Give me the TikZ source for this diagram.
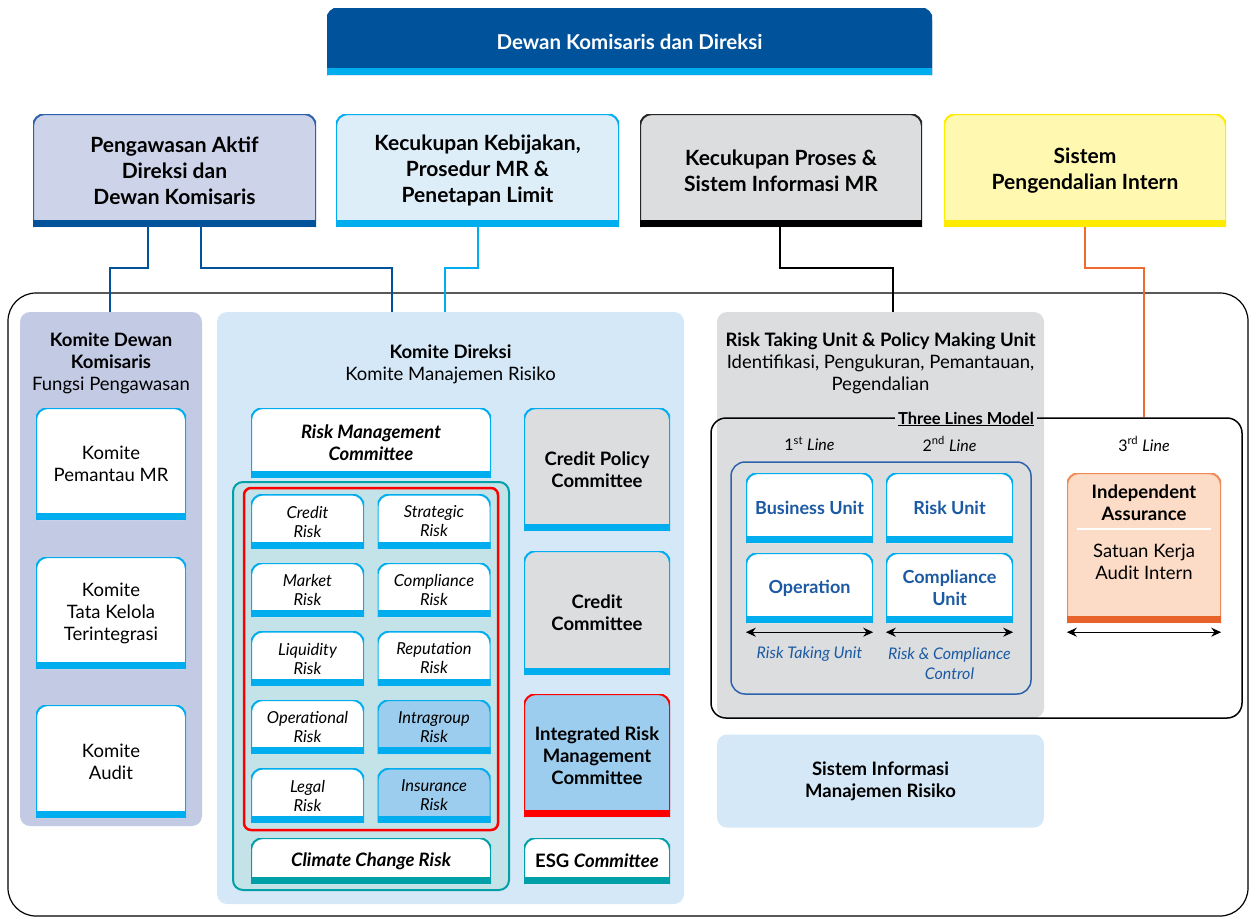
\documentclass[tikz,border=0pt]{standalone}
\usepackage{fontspec}
\setmainfont{Lato}
\usetikzlibrary{arrows.meta}

\definecolor{navy}{HTML}{00529B}
\definecolor{cyanbar}{HTML}{00AEEF}
\definecolor{lavfill}{HTML}{CDD3E8}
\definecolor{lavpanel}{HTML}{C3CAE3}
\definecolor{lavline}{HTML}{2E63AC}
\definecolor{ltblue}{HTML}{DDEEF9}
\definecolor{blupanel}{HTML}{D5E8F7}
\definecolor{panelgray}{HTML}{DCDDDF}
\definecolor{yelfill}{HTML}{FFF8B0}
\definecolor{yelline}{HTML}{FFEB00}
\definecolor{orangeline}{HTML}{EE6A30}
\definecolor{tealline}{HTML}{00A0A8}
\definecolor{tealfill}{HTML}{C4E3E8}
\definecolor{midblue}{HTML}{9DCDEE}
\definecolor{unitblue}{HTML}{1B5AA3}
\definecolor{peach}{HTML}{FCDCC7}
\definecolor{peachline}{HTML}{F08A55}
\definecolor{orangebar}{HTML}{E8632A}

\tikzset{
  card/.style n args={3}{inner sep=0pt, align=center,
    path picture={
      \fill[#1, rounded corners=12pt] (path picture bounding box.south west) -- (path picture bounding box.north west)
        -- (path picture bounding box.north east) -- (path picture bounding box.south east);
      \draw[#2, line width=2pt, rounded corners=12pt] (path picture bounding box.south west) -- (path picture bounding box.north west)
        -- (path picture bounding box.north east) -- (path picture bounding box.south east);
      \fill[#3] (path picture bounding box.south west) rectangle ([yshift=7pt]path picture bounding box.south east);
    }},
  panel/.style={fill=#1, rounded corners=10pt, inner sep=0pt},
  conn/.style={line width=2.8pt, draw=#1},
  twoway/.style={{Stealth[length=10pt,width=9pt]}-{Stealth[length=10pt,width=9pt]}, line width=1.2pt},
  tbig/.style={align=center, font=\fontsize{21}{26}\selectfont\bfseries},
  tmid/.style={align=center, font=\fontsize{18.5}{22}\selectfont},
  tmidb/.style={align=center, font=\fontsize{18.5}{22}\selectfont\bfseries},
  trisk/.style={align=center, font=\fontsize{16.5}{19}\selectfont\itshape},
  tcomm/.style={align=center, font=\fontsize{18.5}{22}\selectfont\bfseries\itshape},
  riskcard/.style={card={#1}{cyanbar}{cyanbar}, minimum width=113pt, minimum height=54pt, trisk},
  unitcard/.style={card={white}{cyanbar}{cyanbar}, minimum width=127pt, minimum height=70pt,
    align=center, font=\fontsize{18}{22}\selectfont\bfseries, text=unitblue},
}

\begin{document}
\begin{tikzpicture}[x=1pt, y=-1pt]
  \useasboundingbox (0,0) rectangle (1250,919);

  % board and the four pillars
  \node[card={navy}{navy}{cyanbar}, minimum width=605pt, minimum height=67pt, text=white,
    font=\fontsize{20.5}{24}\selectfont\bfseries] (board) at (629.5,41.5) {Dewan Komisaris dan Direksi};

  \node[card={lavfill}{lavline}{navy}, minimum width=283pt, minimum height=113pt, tbig] (aktif) at (174.5,170.5)
    {Pengawasan Aktif\\Direksi dan\\Dewan Komisaris};
  \node[card={ltblue}{cyanbar}{cyanbar}, minimum width=283pt, minimum height=113pt, tbig] (kebijakan) at (477.5,170.5)
    {Kecukupan Kebijakan,\\Prosedur MR \&\\Penetapan Limit};
  \node[card={panelgray}{black!85}{black}, minimum width=282pt, minimum height=113pt, tbig] (proses) at (781,170.5)
    {Kecukupan Proses \&\\Sistem Informasi MR};
  \node[card={yelfill}{yelline}{yelline}, minimum width=282pt, minimum height=113pt, tbig] (spi) at (1085,170.5)
    {Sistem\\Pengendalian Intern};

  % outer frame and panels
  \node[draw, line width=1.2pt, rounded corners=28pt, minimum width=1240pt, minimum height=623pt] (frame) at (628,604.5) {};
  \node[panel=lavpanel, minimum width=182pt, minimum height=514pt] (kdk) at (111,569) {};
  \node[panel=blupanel, minimum width=467pt, minimum height=592pt] (kdir) at (450.5,608) {};
  \node[panel=panelgray, minimum width=327pt, minimum height=406pt] (rtu) at (880.5,515) {};
  \node[panel=blupanel, minimum width=327pt, minimum height=93pt, tmidb] (simr) at (880.5,781)
    {Sistem Informasi\\Manajemen Risiko};

  % Komite Dewan Komisaris
  \node[tmid] (kdktitle) at (111,363.5) {\textbf{Komite Dewan}\\\textbf{Komisaris}\\Fungsi Pengawasan};
  \node[card={white}{cyanbar}{cyanbar}, minimum width=150pt, minimum height=112pt, tmid] (pemantau) at (111,464)
    {Komite\\Pemantau MR};
  \node[card={white}{cyanbar}{cyanbar}, minimum width=150pt, minimum height=112pt, tmid] (tatakelola) at (111,613)
    {Komite\\Tata Kelola\\Terintegrasi};
  \node[card={white}{cyanbar}{cyanbar}, minimum width=150pt, minimum height=113pt, tmid] (audit) at (111,761.5)
    {Komite\\Audit};

  % Komite Direksi
  \node[tmid] (kdirtitle) at (450.5,364) {\textbf{Komite Direksi}\\Komite Manajemen Risiko};
  \node[card={white}{cyanbar}{cyanbar}, minimum width=240pt, minimum height=70pt, tcomm] (rmc) at (371,443)
    {Risk Management\\Committee};
  \node[draw=tealline, line width=2pt, fill=tealfill, rounded corners=10pt, minimum width=276pt, minimum height=408pt] (riskgrp) at (371,686) {};
  \node[draw=red, line width=2.5pt, rounded corners=7pt, minimum width=254pt, minimum height=342pt] (riskset) at (371,659) {};

  \node[riskcard=white] (credit) at (307.5,521.5) {Credit\\Risk};
  \node[riskcard=white] (strategic) at (434,521.5) {Strategic\\Risk};
  \node[riskcard=white] (market) at (307.5,590) {Market\\Risk};
  \node[riskcard=white] (compliance) at (434,590) {Compliance\\Risk};
  \node[riskcard=white] (liquidity) at (307.5,658.5) {Liquidity\\Risk};
  \node[riskcard=white] (reputation) at (434,658.5) {Reputation\\Risk};
  \node[riskcard=white] (operational) at (307.5,727) {Operational\\Risk};
  \node[riskcard=midblue] (intragroup) at (434,727) {Intragroup\\Risk};
  \node[riskcard=white] (legal) at (307.5,795.5) {Legal\\Risk};
  \node[riskcard=midblue] (insurance) at (434,795.5) {Insurance\\Risk};

  \node[card={white}{tealline}{tealline}, minimum width=240pt, minimum height=46pt, tcomm] (climate) at (371,861)
    {Climate Change Risk};

  \node[card={panelgray}{cyanbar}{cyanbar}, minimum width=146pt, minimum height=123pt, tmidb] (cpc) at (597,469.5)
    {Credit Policy\\Committee};
  \node[card={panelgray}{cyanbar}{cyanbar}, minimum width=146pt, minimum height=124pt, tmidb] (cc) at (597,613)
    {Credit\\Committee};
  \node[card={midblue}{red}{red}, minimum width=146pt, minimum height=123pt, tmidb] (irmc) at (597,755.5)
    {Integrated Risk\\Management\\Committee};
  \node[card={white}{tealline}{tealline}, minimum width=146pt, minimum height=46pt, tmidb] (esg) at (597,861)
    {ESG \textit{Committee}};

  % Risk Taking Unit and the three lines
  \node[tmid] (rtutitle) at (880.5,363)
    {\textbf{Risk Taking Unit \& Policy Making Unit}\\Identifikasi, Pengukuran, Pemantauan,\\Pegendalian};
  \node[draw, line width=1.5pt, rounded corners=15pt, minimum width=531pt, minimum height=300pt] (tlm) at (976.5,568) {};
  \node[fill=panelgray, inner sep=3pt, font=\fontsize{16.5}{19}\selectfont\bfseries] (tlmlabel) at (966,419) {\underline{Three Lines Model}};

  \node[font=\fontsize{16}{19}\selectfont] (line1) at (809.5,444) {1\textsuperscript{st} \textit{Line}};
  \node[font=\fontsize{16}{19}\selectfont] (line2) at (949.5,444) {2\textsuperscript{nd} \textit{Line}};
  \node[font=\fontsize{16}{19}\selectfont] (line3) at (1144,444) {3\textsuperscript{rd} \textit{Line}};

  \node[draw=lavline, line width=1.5pt, rounded corners=14pt, minimum width=300pt, minimum height=232pt] (lineframe) at (881,578) {};
  \node[unitcard] (bu) at (809.5,508) {Business Unit};
  \node[unitcard] (ru) at (949.5,508) {Risk Unit};
  \node[unitcard] (op) at (809.5,588) {Operation};
  \node[unitcard] (cu) at (949.5,588) {Compliance\\Unit};

  \draw[twoway] ([yshift=-9pt]op.south west) -- ([yshift=-9pt]op.south east);
  \draw[twoway] ([yshift=-9pt]cu.south west) -- ([yshift=-9pt]cu.south east);
  \node[font=\fontsize{16}{20}\selectfont\itshape, text=unitblue] (rtulabel) at (809.5,654) {Risk Taking Unit};
  \node[align=center, font=\fontsize{16}{20}\selectfont\itshape, text=unitblue] (rcclabel) at (949.5,664) {Risk \& Compliance\\Control};

  \node[card={peach}{peachline}{orangebar}, minimum width=154pt, minimum height=150pt] (ia) at (1144,548) {};
  \node[tmidb] (iahead) at (1144,502.5) {Independent\\Assurance};
  \draw[white, line width=1.5pt, shorten <=10pt, shorten >=10pt] (ia.west |- 0,529) -- (ia.east |- 0,529);
  \node[tmid] (iabody) at (1144,562) {Satuan Kerja\\Audit Intern};
  \draw[twoway] ([yshift=-9pt]ia.south west) -- ([yshift=-9pt]ia.south east);

  % connectors
  \draw[conn=navy] (148,0 |- aktif.south) |- (110,268) -- (110,0 |- kdk.north);
  \draw[conn=navy] (201,0 |- aktif.south) |- (392,268) -- (392,0 |- kdir.north);
  \draw[conn=cyanbar] (478,0 |- kebijakan.south) |- (445,268) -- (445,0 |- kdir.north);
  \draw[conn=black] (780,0 |- proses.south) |- (893,268) -- (893,0 |- rtu.north);
  \draw[conn=orangeline] (1085,0 |- spi.south) |- (1144,268) -- (1144,0 |- tlm.north);
\end{tikzpicture}
\end{document}
